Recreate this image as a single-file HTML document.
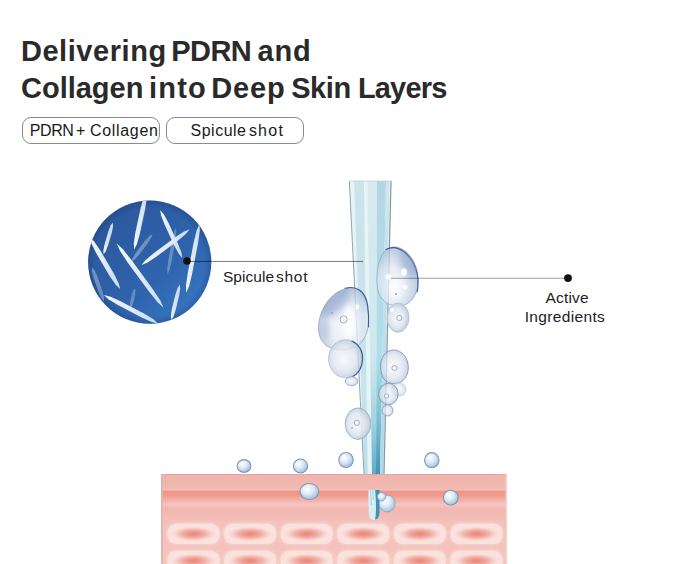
<!DOCTYPE html>
<html><head><meta charset="utf-8">
<style>
html,body{margin:0;padding:0;background:#fff;}
body{width:679px;height:564px;overflow:hidden;position:relative;font-family:"Liberation Sans",sans-serif;}
.t{position:absolute;white-space:nowrap;line-height:1;}
.title{font-weight:bold;font-size:29px;color:#2a2a2a;}
.pill{position:absolute;border:1px solid #8a8a8a;border-radius:9px;box-sizing:border-box;}
.lbl{font-size:15px;color:#222;}
</style></head><body>
<svg width="679" height="564" viewBox="0 0 679 564" style="position:absolute;left:0;top:0">
<defs>
 <linearGradient id="cg" x1="0" y1="0" x2="1" y2="1">
  <stop offset="0" stop-color="#2a5496"/><stop offset="0.6" stop-color="#2f64ad"/><stop offset="1" stop-color="#3a80c8"/>
 </linearGradient>
 <linearGradient id="spg" x1="0" y1="0" x2="1" y2="0">
  <stop offset="0" stop-color="#ffffff"/><stop offset="1" stop-color="#cfe3f7"/>
 </linearGradient>
 <linearGradient id="ng1" x1="0" y1="0" x2="0" y2="1"><stop offset="0" stop-color="#cce3ea"/><stop offset="0.7" stop-color="#c6e4eb"/><stop offset="1" stop-color="#b8dfe8"/></linearGradient>
 <linearGradient id="ng2" x1="0" y1="0" x2="0" y2="1"><stop offset="0" stop-color="#d8eaef"/><stop offset="0.6" stop-color="#cde8ee"/><stop offset="0.82" stop-color="#a5d3e0"/><stop offset="1" stop-color="#5eabc6"/></linearGradient>
 <linearGradient id="ng3" x1="0" y1="0" x2="0" y2="1"><stop offset="0" stop-color="#b3d5e4"/><stop offset="0.6" stop-color="#ade0e8"/><stop offset="0.82" stop-color="#7cbdd2"/><stop offset="1" stop-color="#3f95b6"/></linearGradient>
 <linearGradient id="ng4" x1="0" y1="0" x2="0" y2="1"><stop offset="0" stop-color="#d0e6ee"/><stop offset="1" stop-color="#aed7e4"/></linearGradient>
 <linearGradient id="sband" x1="0" y1="0" x2="0" y2="1"><stop offset="0" stop-color="#ee9384"/><stop offset="0.25" stop-color="#f09a8b"/><stop offset="0.6" stop-color="#f4b6b0"/><stop offset="0.8" stop-color="#f7c5c3"/><stop offset="1" stop-color="#f2b9b2"/></linearGradient>
 <linearGradient id="stop" x1="0" y1="0" x2="0" y2="1"><stop offset="0" stop-color="#f0b4ac"/><stop offset="1" stop-color="#f2bab2"/></linearGradient>
 <radialGradient id="cellg" cx="0.5" cy="0.5" r="0.5">
  <stop offset="0" stop-color="#ea8477"/><stop offset="0.25" stop-color="#ed978a"/><stop offset="0.55" stop-color="#f2b4ab"/><stop offset="0.8" stop-color="#f8d6d0"/><stop offset="1" stop-color="#fbe3df"/>
 </radialGradient>
 <radialGradient id="ballg" cx="0.38" cy="0.35" r="0.72">
  <stop offset="0" stop-color="#ffffff"/><stop offset="0.45" stop-color="#dde9f5"/><stop offset="0.85" stop-color="#abc5e1"/><stop offset="1" stop-color="#92b1d6"/>
 </radialGradient>
 <radialGradient id="bg1" cx="0.5" cy="0.5" r="0.6"><stop offset="0" stop-color="#f4f7fb"/><stop offset="1" stop-color="#b9c9df"/></radialGradient>
 <radialGradient id="bgC" cx="0.6" cy="0.62" r="0.72"><stop offset="0" stop-color="#f7f9fc"/><stop offset="0.5" stop-color="#e0e7f1"/><stop offset="0.85" stop-color="#a9bbd9"/><stop offset="1" stop-color="#8ea5cc"/></radialGradient>
 <radialGradient id="bgA" cx="0.35" cy="0.65" r="0.8"><stop offset="0" stop-color="#f4f7fb"/><stop offset="0.4" stop-color="#dde6f0"/><stop offset="0.8" stop-color="#a7bbd7"/><stop offset="1" stop-color="#8aa3c8"/></radialGradient>
 <radialGradient id="bgD" cx="0.45" cy="0.5" r="0.6"><stop offset="0" stop-color="#f4f6fa"/><stop offset="0.55" stop-color="#dfe6ef"/><stop offset="1" stop-color="#aebdd3"/></radialGradient>
 <filter id="soft" x="-50%" y="-50%" width="200%" height="200%"><feGaussianBlur stdDeviation="3.5"/></filter>
 <filter id="soft2" x="-50%" y="-50%" width="200%" height="200%"><feGaussianBlur stdDeviation="2"/></filter>
 <clipPath id="clipC"><path d="M318.5,329 C318,312 330,290 350,288 C361,287 368,297 368.5,318 C369,335 362,349 343,350 C327,350 319,342 318.5,329Z"/></clipPath>
 <clipPath id="clipA"><path d="M377,283 C376,266 381,248 393,247 C406,246 418,262 418,280 C418,296 410,306 398,306 C385,306 377.5,297 377,283Z"/></clipPath>
 <filter id="soft3" x="-20%" y="-50%" width="140%" height="200%"><feGaussianBlur stdDeviation="1.5"/></filter>
 <filter id="soft4" x="-20%" y="-50%" width="140%" height="200%"><feGaussianBlur stdDeviation="0.5"/></filter>
 <linearGradient id="cellbg" x1="0" y1="0" x2="0" y2="1"><stop offset="0" stop-color="#f2b9b2"/><stop offset="0.2" stop-color="#f3c0ba"/><stop offset="1" stop-color="#f4c4be"/></linearGradient>
 <clipPath id="cc"><circle cx="149.7" cy="262.1" r="61.6"/></clipPath>
 <radialGradient id="crim" cx="0.5" cy="0.5" r="0.5"><stop offset="0.88" stop-color="#1a3a7a" stop-opacity="0"/><stop offset="1" stop-color="#1a3a7a" stop-opacity="0.35"/></radialGradient>
</defs>
<circle cx="149.7" cy="262.1" r="61.6" fill="url(#cg)"/>
<circle cx="149.7" cy="262.1" r="61.6" fill="url(#crim)"/>
<g clip-path="url(#cc)"><path d="M146.5,192.0 L143.7,197.4 L140.8,207.6 L135.3,233.0 L133.8,243.5 L134.1,249.6 L134.1,249.6 L136.9,244.2 L139.8,234.0 L145.3,208.6 L146.8,198.1 L146.5,192.0Z" fill="url(#spg)" opacity="0.95"/><path d="M112.8,222.5 L110.7,225.3 L108.5,230.9 L104.4,244.9 L103.3,250.8 L103.6,254.3 L103.6,254.3 L105.7,251.5 L107.9,245.9 L112.0,231.9 L113.1,226.0 L112.8,222.5Z" fill="url(#spg)" opacity="0.9"/><path d="M89.5,237.0 L91.1,243.1 L96.0,252.8 L109.5,275.7 L115.7,284.7 L120.2,289.0 L120.2,289.0 L118.6,282.9 L113.7,273.2 L100.2,250.3 L94.0,241.3 L89.5,237.0Z" fill="url(#spg)" opacity="0.95"/><path d="M116.7,243.6 L120.1,251.0 L128.0,262.9 L148.6,291.1 L157.6,302.2 L163.6,307.7 L163.6,307.7 L160.2,300.3 L152.3,288.4 L131.7,260.2 L122.7,249.1 L116.7,243.6Z" fill="url(#spg)" opacity="0.95"/><path d="M160.2,210.0 L161.1,215.4 L164.5,224.3 L174.2,245.4 L178.8,253.8 L182.3,258.0 L182.3,258.0 L181.4,252.6 L178.0,243.7 L168.3,222.6 L163.7,214.2 L160.2,210.0Z" fill="url(#spg)" opacity="0.95"/><path d="M141.5,265.0 L147.2,262.7 L156.3,256.7 L177.5,241.0 L185.8,234.0 L189.7,229.2 L189.7,229.2 L184.0,231.5 L174.9,237.5 L153.7,253.2 L145.4,260.2 L141.5,265.0Z" fill="url(#spg)" opacity="0.95"/><path d="M199.6,223.7 L196.7,230.3 L193.7,242.6 L187.8,273.0 L186.0,285.6 L186.2,292.8 L186.2,292.8 L189.1,286.2 L192.1,273.9 L198.0,243.5 L199.8,230.9 L199.6,223.7Z" fill="url(#spg)" opacity="0.95"/><path d="M103.8,295.0 L108.4,299.3 L117.9,305.1 L141.7,317.6 L151.8,322.1 L158.0,323.5 L158.0,323.5 L153.4,319.2 L143.9,313.4 L120.1,300.9 L110.0,296.4 L103.8,295.0Z" fill="url(#spg)" opacity="0.95"/><path d="M179.8,284.6 L177.7,287.8 L175.6,294.1 L171.8,309.6 L170.9,316.1 L171.3,320.0 L171.3,320.0 L173.4,316.8 L175.5,310.5 L179.3,295.0 L180.2,288.5 L179.8,284.6Z" fill="url(#spg)" opacity="0.9"/><path d="M152.5,234.0 L149.4,236.0 L145.2,240.6 L136.0,252.7 L132.7,258.0 L131.6,261.5 L131.6,261.5 L134.7,259.5 L138.9,254.9 L148.1,242.8 L151.4,237.5 L152.5,234.0Z" fill="url(#spg)" opacity="0.35"/><path d="M92.0,267.2 L91.9,271.1 L93.5,277.4 L98.8,292.5 L101.5,298.4 L104.0,301.4 L104.0,301.4 L104.1,297.5 L102.5,291.2 L97.2,276.1 L94.5,270.2 L92.0,267.2Z" fill="url(#spg)" opacity="0.35"/><path d="M176.0,227.5 L174.0,232.0 L172.0,240.3 L168.3,260.8 L167.3,269.3 L167.6,274.2 L167.6,274.2 L169.6,269.7 L171.6,261.4 L175.3,240.9 L176.3,232.4 L176.0,227.5Z" fill="url(#spg)" opacity="0.3"/><path d="M134.9,288.3 L133.4,290.0 L132.1,293.4 L130.2,301.9 L129.9,305.5 L130.6,307.7 L130.6,307.7 L132.1,306.0 L133.4,302.6 L135.3,294.1 L135.6,290.5 L134.9,288.3Z" fill="url(#spg)" opacity="0.3"/></g>
<path d="M349.30,181.00 L391.00,181.00 L384.00,474.00 L364.00,474.00Z" fill="#e6f3f7" /><path d="M354.10,181.00 L363.89,181.00 L367.60,474.00 L364.40,474.00Z" fill="url(#ng1)" /><path d="M367.44,181.00 L377.03,181.00 L376.00,474.00 L372.00,474.00Z" fill="url(#ng2)" /><path d="M377.03,181.00 L386.00,181.00 L380.00,474.00 L376.00,474.00Z" fill="url(#ng3)" /><path d="M386.00,181.00 L389.54,181.00 L383.20,474.00 L380.00,474.00Z" fill="url(#ng4)" /><path d="M349.3,181 L364.0,474" stroke="#8fa6b0" stroke-width="1" fill="none"/><path d="M391.0,181 L384.0,474" stroke="#7f98a5" stroke-width="1.2" fill="none"/><line x1="349.3" y1="181" x2="391.0" y2="181" stroke="#c2d8e2" stroke-width="1"/>
<rect x="161" y="474" width="346" height="90" fill="#f2b8b1"/><rect x="161" y="474" width="346" height="1.2" fill="#e6a69f"/><rect x="161" y="475.2" width="346" height="13.99999999999999" fill="url(#stop)"/><rect x="161" y="489.2" width="346" height="1.5" fill="#f5c0b6"/><rect x="161" y="490.7" width="346" height="17.3" fill="url(#sband)"/><rect x="161" y="474" width="1.8" height="90" fill="#e8b2ac"/><rect x="165.5" y="475" width="0.8" height="90" fill="#e9a9a2" opacity="0.5"/><rect x="505.5" y="474" width="1.5" height="90" fill="#f7d0cb"/><rect x="162.8" y="512" width="342.7" height="52" fill="url(#cellbg)"/><rect x="166.5" y="522.7" width="54" height="22.4" rx="10" ry="10" fill="#f8d6d1" filter="url(#soft3)"/><rect x="167.5" y="523.7" width="52" height="20.4" rx="9" ry="9" fill="#fbe1dc" filter="url(#soft4)"/><rect x="170.5" y="526.3" width="46" height="15.2" rx="7" ry="7" fill="url(#cellg)"/><rect x="223.1" y="522.7" width="54" height="22.4" rx="10" ry="10" fill="#f8d6d1" filter="url(#soft3)"/><rect x="224.1" y="523.7" width="52" height="20.4" rx="9" ry="9" fill="#fbe1dc" filter="url(#soft4)"/><rect x="227.1" y="526.3" width="46" height="15.2" rx="7" ry="7" fill="url(#cellg)"/><rect x="279.7" y="522.7" width="54" height="22.4" rx="10" ry="10" fill="#f8d6d1" filter="url(#soft3)"/><rect x="280.7" y="523.7" width="52" height="20.4" rx="9" ry="9" fill="#fbe1dc" filter="url(#soft4)"/><rect x="283.7" y="526.3" width="46" height="15.2" rx="7" ry="7" fill="url(#cellg)"/><rect x="336.3" y="522.7" width="54" height="22.4" rx="10" ry="10" fill="#f8d6d1" filter="url(#soft3)"/><rect x="337.3" y="523.7" width="52" height="20.4" rx="9" ry="9" fill="#fbe1dc" filter="url(#soft4)"/><rect x="340.3" y="526.3" width="46" height="15.2" rx="7" ry="7" fill="url(#cellg)"/><rect x="392.9" y="522.7" width="54" height="22.4" rx="10" ry="10" fill="#f8d6d1" filter="url(#soft3)"/><rect x="393.9" y="523.7" width="52" height="20.4" rx="9" ry="9" fill="#fbe1dc" filter="url(#soft4)"/><rect x="396.9" y="526.3" width="46" height="15.2" rx="7" ry="7" fill="url(#cellg)"/><rect x="449.5" y="522.7" width="54" height="22.4" rx="10" ry="10" fill="#f8d6d1" filter="url(#soft3)"/><rect x="450.5" y="523.7" width="52" height="20.4" rx="9" ry="9" fill="#fbe1dc" filter="url(#soft4)"/><rect x="453.5" y="526.3" width="46" height="15.2" rx="7" ry="7" fill="url(#cellg)"/><rect x="166.5" y="549.7" width="54" height="22.4" rx="10" ry="10" fill="#f8d6d1" filter="url(#soft3)"/><rect x="167.5" y="550.7" width="52" height="20.4" rx="9" ry="9" fill="#fbe1dc" filter="url(#soft4)"/><rect x="170.5" y="553.3" width="46" height="15.2" rx="7" ry="7" fill="url(#cellg)"/><rect x="223.1" y="549.7" width="54" height="22.4" rx="10" ry="10" fill="#f8d6d1" filter="url(#soft3)"/><rect x="224.1" y="550.7" width="52" height="20.4" rx="9" ry="9" fill="#fbe1dc" filter="url(#soft4)"/><rect x="227.1" y="553.3" width="46" height="15.2" rx="7" ry="7" fill="url(#cellg)"/><rect x="279.7" y="549.7" width="54" height="22.4" rx="10" ry="10" fill="#f8d6d1" filter="url(#soft3)"/><rect x="280.7" y="550.7" width="52" height="20.4" rx="9" ry="9" fill="#fbe1dc" filter="url(#soft4)"/><rect x="283.7" y="553.3" width="46" height="15.2" rx="7" ry="7" fill="url(#cellg)"/><rect x="336.3" y="549.7" width="54" height="22.4" rx="10" ry="10" fill="#f8d6d1" filter="url(#soft3)"/><rect x="337.3" y="550.7" width="52" height="20.4" rx="9" ry="9" fill="#fbe1dc" filter="url(#soft4)"/><rect x="340.3" y="553.3" width="46" height="15.2" rx="7" ry="7" fill="url(#cellg)"/><rect x="392.9" y="549.7" width="54" height="22.4" rx="10" ry="10" fill="#f8d6d1" filter="url(#soft3)"/><rect x="393.9" y="550.7" width="52" height="20.4" rx="9" ry="9" fill="#fbe1dc" filter="url(#soft4)"/><rect x="396.9" y="553.3" width="46" height="15.2" rx="7" ry="7" fill="url(#cellg)"/><rect x="449.5" y="549.7" width="54" height="22.4" rx="10" ry="10" fill="#f8d6d1" filter="url(#soft3)"/><rect x="450.5" y="550.7" width="52" height="20.4" rx="9" ry="9" fill="#fbe1dc" filter="url(#soft4)"/><rect x="453.5" y="553.3" width="46" height="15.2" rx="7" ry="7" fill="url(#cellg)"/><path d="M368.4,490 L379.8,490 L379.6,512 C379.4,518 377,520 374,520 C370.5,520 368.8,517 368.6,512Z" fill="#d9eff3"/><path d="M375.2,490 L379.8,490 L379.6,512 C379.4,517 377.5,519.5 375,519.6 C376.5,514 376,500 375.2,490Z" fill="#3e93b1"/><path d="M370.5,490 L371.5,505 M372.8,490 L373.2,500" stroke="#9cc7d4" stroke-width="0.7" fill="none"/><ellipse cx="387.2" cy="503.6" rx="8" ry="8.4" fill="url(#ballg)" stroke="#8aa6c8" stroke-width="0.8"/><circle cx="381.6" cy="496.8" r="4.2" fill="url(#ballg)" stroke="#8aa6c8" stroke-width="0.8"/>
<path d="M318.5,329 C318,312 330,290 350,288 C361,287 368,297 368.5,318 C369,335 362,349 343,350 C327,350 319,342 318.5,329Z" fill="url(#bgC)" fill-opacity="0.72" stroke="#9aaecb" stroke-width="0.9"/><path d="M345,288.3 C356,285.5 365,290 367.6,305 C368.6,312 368.9,320 368.5,327" fill="none" stroke="#34508a" stroke-width="1.15" stroke-linecap="round" opacity="0.9"/><g clip-path="url(#clipC)"><ellipse cx="334" cy="301" rx="20" ry="11" transform="rotate(-45 334 301)" fill="#7f98c6" opacity="0.5" filter="url(#soft)"/><ellipse cx="349" cy="322" rx="6" ry="16" fill="#ffffff" opacity="0.75" filter="url(#soft2)"/><ellipse cx="325" cy="330" rx="5" ry="10" fill="#9fb3d3" opacity="0.35" filter="url(#soft2)"/></g><path d="M328.6,358.8 A17,19 0 1,0 362.6,358.8 A17,19 0 1,0 328.6,358.8Z" fill="url(#bgD)" fill-opacity="0.8" stroke="#b3c1d6" stroke-width="0.9"/><path d="M352,341 C360,345 363,352 362.5,360 C362,368 358,374 352,377" fill="none" stroke="#34508a" stroke-width="1.15" stroke-linecap="round" opacity="0.9"/><path d="M345.20000000000005,381.2 A6.4,4.5 0 1,0 358.0,381.2 A6.4,4.5 0 1,0 345.20000000000005,381.2Z" fill="url(#bgD)" fill-opacity="0.85" stroke="#9aaecb" stroke-width="0.9"/><path d="M377,283 C376,266 381,248 393,247 C406,246 418,262 418,280 C418,296 410,306 398,306 C385,306 377.5,297 377,283Z" fill="url(#bgA)" fill-opacity="0.72" stroke="#9aaecb" stroke-width="0.9"/><path d="M386,249.5 C399,243 413,256 417.3,274 C418.2,280 418.2,287 417.2,292" fill="none" stroke="#34508a" stroke-width="1.15" stroke-linecap="round" opacity="0.9"/><g clip-path="url(#clipA)"><ellipse cx="410" cy="263" rx="9" ry="16" transform="rotate(-25 410 263)" fill="#7f98c6" opacity="0.45" filter="url(#soft)"/><ellipse cx="396" cy="288" rx="6" ry="11" fill="#ffffff" opacity="0.6" filter="url(#soft2)"/></g><path d="M387,317.6 A11,14.6 0 1,0 409,317.6 A11,14.6 0 1,0 387,317.6Z" fill="url(#bgD)" fill-opacity="0.9" stroke="#b0c0d6" stroke-width="0.9"/><path d="M380.6,368 C380,357 386,350 393.5,350 C402,350 408.5,358 408.3,368 C408,378 402,383.5 394,383.5 C386,383.5 381,378 380.6,368Z" fill="url(#bgD)" fill-opacity="0.72" stroke="#8096b6" stroke-width="0.9"/><path d="M392,389.5 A7,6.5 0 1,0 406,389.5 A7,6.5 0 1,0 392,389.5Z" fill="url(#bgD)" fill-opacity="0.6" stroke="#c0cddd" stroke-width="0.9"/><path d="M378.59999999999997,394 A9.8,10.7 0 1,0 398.2,394 A9.8,10.7 0 1,0 378.59999999999997,394Z" fill="url(#bgD)" fill-opacity="0.72" stroke="#8096b6" stroke-width="0.9"/><path d="M382.0,410.4 A5.5,5.6 0 1,0 393.0,410.4 A5.5,5.6 0 1,0 382.0,410.4Z" fill="url(#bgD)" fill-opacity="0.72" stroke="#8ea4c4" stroke-width="0.9"/><path d="M345.25,423.7 A12.75,15.75 0 1,0 370.75,423.7 A12.75,15.75 0 1,0 345.25,423.7Z" fill="url(#bgD)" fill-opacity="0.88" stroke="#9aaecb" stroke-width="0.9"/><circle cx="343.6" cy="319.4" r="3.6" fill="#f4f7fb" stroke="#8196b6" stroke-width="0.8" opacity="0.9"/><circle cx="356.8" cy="422.8" r="2.6" fill="#f4f7fb" stroke="#8196b6" stroke-width="0.8" opacity="0.9"/><circle cx="399.3" cy="318" r="2.6" fill="#f4f7fb" stroke="#8196b6" stroke-width="0.8" opacity="0.9"/><circle cx="386.5" cy="396" r="2.2" fill="#f4f7fb" stroke="#8196b6" stroke-width="0.8" opacity="0.9"/><circle cx="394.5" cy="368" r="2.6" fill="#f4f7fb" stroke="#8196b6" stroke-width="0.8" opacity="0.9"/><ellipse cx="404" cy="272" rx="3" ry="3.8" fill="#ffffff" opacity="0.9"/><ellipse cx="404.7" cy="287" rx="2.5" ry="2.5" fill="#ffffff" opacity="0.9"/><ellipse cx="388.6" cy="276.8" rx="3.2" ry="2.8" fill="#ffffff" opacity="0.9"/><ellipse cx="350" cy="331.2" rx="2.6" ry="2.2" fill="#ffffff" opacity="0.9"/><ellipse cx="357" cy="307" rx="1.8" ry="2.4" fill="#ffffff" opacity="0.9"/><ellipse cx="392" cy="310" rx="2" ry="2" fill="#ffffff" opacity="0.9"/><circle cx="396" cy="294" r="0.9" fill="#7d8fae"/><circle cx="332" cy="313" r="0.8" fill="#7d8fae"/><circle cx="352" cy="428" r="0.8" fill="#7d8fae"/><ellipse cx="244" cy="466" rx="6.9" ry="6.4" fill="url(#ballg)" stroke="#7f97b6" stroke-width="1.1"/><ellipse cx="300.5" cy="466" rx="7.1" ry="7" fill="url(#ballg)" stroke="#7f97b6" stroke-width="1.1"/><ellipse cx="346" cy="460" rx="7.2" ry="7.5" fill="url(#ballg)" stroke="#7f97b6" stroke-width="1.1"/><ellipse cx="431.8" cy="460.2" rx="7.2" ry="7.6" fill="url(#ballg)" stroke="#7f97b6" stroke-width="1.1"/><ellipse cx="309.4" cy="491.5" rx="9.4" ry="8" fill="url(#ballg)" stroke="#7f97b6" stroke-width="1.1"/><ellipse cx="450.8" cy="497.6" rx="7.4" ry="7.4" fill="url(#ballg)" stroke="#7f97b6" stroke-width="1.1"/>
<line x1="187" y1="261.45" x2="363" y2="261.45" stroke="#000" stroke-opacity="0.5" stroke-width="1"/>
<circle cx="187" cy="261" r="3.8" fill="#111"/>
<line x1="391" y1="278.25" x2="568" y2="278.25" stroke="#000" stroke-opacity="0.37" stroke-width="1"/>
<circle cx="568" cy="278.1" r="3.9" fill="#111"/>
</svg>
<span class="t title" style="left:20.9px;top:37px;letter-spacing:0.56px">Delivering</span>
<span class="t title" style="left:171.3px;top:37px;letter-spacing:-0.6px">PDRN</span>
<span class="t title" style="left:257.5px;top:37px;letter-spacing:0.85px">and</span>
<span class="t title" style="left:21.1px;top:73.7px;letter-spacing:-0.03px">Collagen</span>
<span class="t title" style="left:149px;top:73.7px;letter-spacing:1.2px">into</span>
<span class="t title" style="left:211.2px;top:73.7px;letter-spacing:0.9px">Deep</span>
<span class="t title" style="left:291.2px;top:73.7px;letter-spacing:-0.43px">Skin</span>
<span class="t title" style="left:357.9px;top:73.7px;letter-spacing:-0.82px">Layers</span>
<div class="pill" style="left:22px;top:117px;width:138px;height:27px;"></div>
<div class="pill" style="left:166px;top:117px;width:138px;height:27px;"></div>
<span class="t lbl" style="left:29.7px;top:122.5px;font-size:16px;color:#1a1a1a;letter-spacing:-0.37px">PDRN</span>
<span class="t lbl" style="left:75.9px;top:122.5px;font-size:16px;color:#1a1a1a;letter-spacing:0px">+</span>
<span class="t lbl" style="left:89.9px;top:122.5px;font-size:16px;color:#1a1a1a;letter-spacing:0.69px">Collagen</span>
<span class="t lbl" style="left:190.5px;top:122.5px;font-size:16px;color:#1a1a1a;letter-spacing:0.5px">Spicule</span>
<span class="t lbl" style="left:248.9px;top:122.5px;font-size:16px;color:#1a1a1a;letter-spacing:1.23px">shot</span>
<span class="t lbl" style="left:222.9px;top:269px;font-size:15.5px;letter-spacing:0.07px">Spicule</span>
<span class="t lbl" style="left:276.1px;top:269px;font-size:15.5px;letter-spacing:0.7px">shot</span>
<span class="t lbl" style="left:545.6px;top:289.5px;font-size:15.5px;letter-spacing:0.16px">Active</span>
<span class="t lbl" style="left:524.7px;top:309px;font-size:15.5px;letter-spacing:0.34px">Ingredients</span>
</body></html>
